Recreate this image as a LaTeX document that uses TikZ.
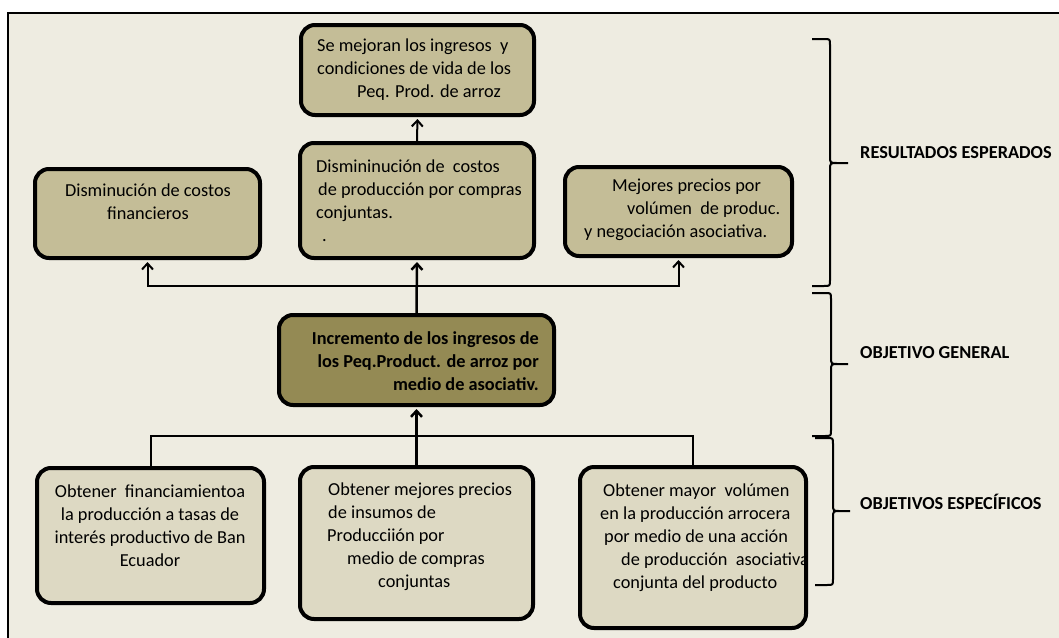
\documentclass[tikz,border=0pt]{standalone}
\usepackage{fontspec}
\setmainfont{Carlito}
\usetikzlibrary{positioning,arrows.meta}
\definecolor{fondo}{HTML}{EEECE1}
\definecolor{colres}{HTML}{C4BD97}
\definecolor{colgen}{HTML}{948A54}
\definecolor{colobj}{HTML}{DDD9C3}

\begin{document}
\begin{tikzpicture}[x=1pt,y=-1pt,>={Straight Barb[length=6pt,width=11pt]}]
	\tikzstyle{custbox} = [rectangle, rounded corners=14pt, line width=4pt, draw=black, inner sep=0pt]
	\tikzstyle{txt} = [align=left, inner sep=0pt, font=\fontsize{18.3}{23}\selectfont]
	\tikzstyle{conn} = [line width=2pt, black, shorten >=2pt]
	\tikzstyle{lbl} = [anchor=base west, inner sep=0pt, font=\bfseries\fontsize{18.3}{23}\selectfont]
	\tikzstyle{grp} = [line width=2pt, black]
	
	\useasboundingbox (0,0) rectangle (1059,637);
	\fill[white] (0,0) rectangle (1059,637);
	\fill[fondo] (8,13) rectangle (1070,650);
	\draw[line width=1.5pt] (8,650) -- (8,13) -- (1070,13);
	
	% resultados
	\node (mejora) at (417.5,70) [custbox, fill=colres, minimum width=233pt, minimum height=90pt]{};
	\node[txt, anchor=west] (mejoratxt) at (317,70) {Se mejoran los ingresos~~y\\condiciones de vida de los\\\hspace*{40pt}Peq. Prod. de arroz};
	
	\node (costos) at (417,200.5) [custbox, fill=colres, minimum width=234pt, minimum height=115pt]{};
	\node[txt, anchor=west] (costostxt) at (316,201) {Dismininución de~~costos\\\hspace*{2pt}de producción por compras\\conjuntas.\\\hspace*{6pt}.};
	
	\node (fin) at (147.5,213.5) [custbox, fill=colres, minimum width=225pt, minimum height=89pt]{};
	\node[txt, align=center] (fintxt) at (148,202) {Disminución de costos\\financieros};
	
	\node (precios) at (678.5,211.5) [custbox, fill=colres, minimum width=227pt, minimum height=89pt]{};
	\node[txt, anchor=west] (preciostxt) at (584,210) {\hspace*{28pt}Mejores precios por\\\hspace*{43pt}volúmen~~de produc.\\y negociación asociativa.};
	
	% objetivo general
	\node (gen) at (416.5,360) [custbox, fill=colgen, minimum width=275pt, minimum height=90pt]{};
	\node[txt, align=right, anchor=east, font=\bfseries\fontsize{18.3}{23}\selectfont] (gentxt) at (539,361) {Incremento de los ingresos de\\los Peq.Product. de arroz por\\medio de asociativ.};
	
	% objetivos especificos
	\node (oe1) at (150.5,535.5) [custbox, fill=colobj, minimum width=227pt, minimum height=135pt]{};
	\node[txt, align=center] (oe1txt) at (150,525.5) {Obtener~~financiamientoa\\la producción a tasas de\\interés productivo de Ban\\Ecuador};
	
	\node (oe2) at (416.5,543) [custbox, fill=colobj, minimum width=233pt, minimum height=152pt]{};
	\node[txt, anchor=west] (oe2txt) at (327,537) {\hspace*{1pt}Obtener mejores precios\\\hspace*{1pt}de insumos de\\Producciión por\\\hspace*{20pt}medio de compras\\\hspace*{51pt}conjuntas};
	
	\node (oe3) at (693,547.5) [custbox, fill=colobj, minimum width=226pt, minimum height=161pt]{};
	\node[txt, anchor=west] (oe3txt) at (600,537.5) {\hspace*{3pt}Obtener mayor~~volúmen\\en la producción arrocera\\\hspace*{4pt}por medio de una acción\\\hspace*{21pt}de producción~~asociativa\\\hspace*{13pt}conjunta del producto};
	
	%Arrows
	\coordinate (bus) at (417,286);
	\coordinate (bus2) at (417,436);
	\draw[conn,->] (costos.north) -- (mejora.south);
	\draw[conn,->,line width=2.5pt] (gen.north) -- (costos.south);
	\draw[conn,->] (bus) -| (fin.south);
	\draw[conn,->] (bus) -| (precios.south);
	\draw[conn,->,line width=2.5pt] (oe2.north) -- (gen.south);
	\draw[conn,shorten >=0pt] (oe1.north) |- (bus2) -| (oe3.north);
	
	%braces
	\draw[grp] (812,39) -- (824,39) .. controls (830,39) .. (830,45) -- (830,156) .. controls (830,163) .. (837,163) -- (848,163)
		(837,163) .. controls (830,163) .. (830,170) -- (830,280) .. controls (830,286) .. (824,286) -- (812,286);
	\draw[grp] (812,293) -- (825,293) .. controls (831,293) .. (831,299) -- (831,357) .. controls (831,364) .. (838,364) -- (848,364)
		(838,364) .. controls (831,364) .. (831,371) -- (831,430) .. controls (831,436) .. (825,436) -- (812,436);
	\draw[grp] (815,438) -- (827,438) .. controls (833,438) .. (833,444) -- (833,504) .. controls (833,511) .. (840,511) -- (850,511)
		(840,511) .. controls (833,511) .. (833,518) -- (833,579) .. controls (833,585) .. (827,585) -- (815,585);
	
	\node[lbl] (res) at (860,158) {RESULTADOS ESPERADOS};
	\node[lbl] (og) at (860,358) {OBJETIVO GENERAL};
	\node[lbl] (oes) at (860,509) {OBJETIVOS ESPECÍFICOS};
	
\end{tikzpicture}
\end{document}
